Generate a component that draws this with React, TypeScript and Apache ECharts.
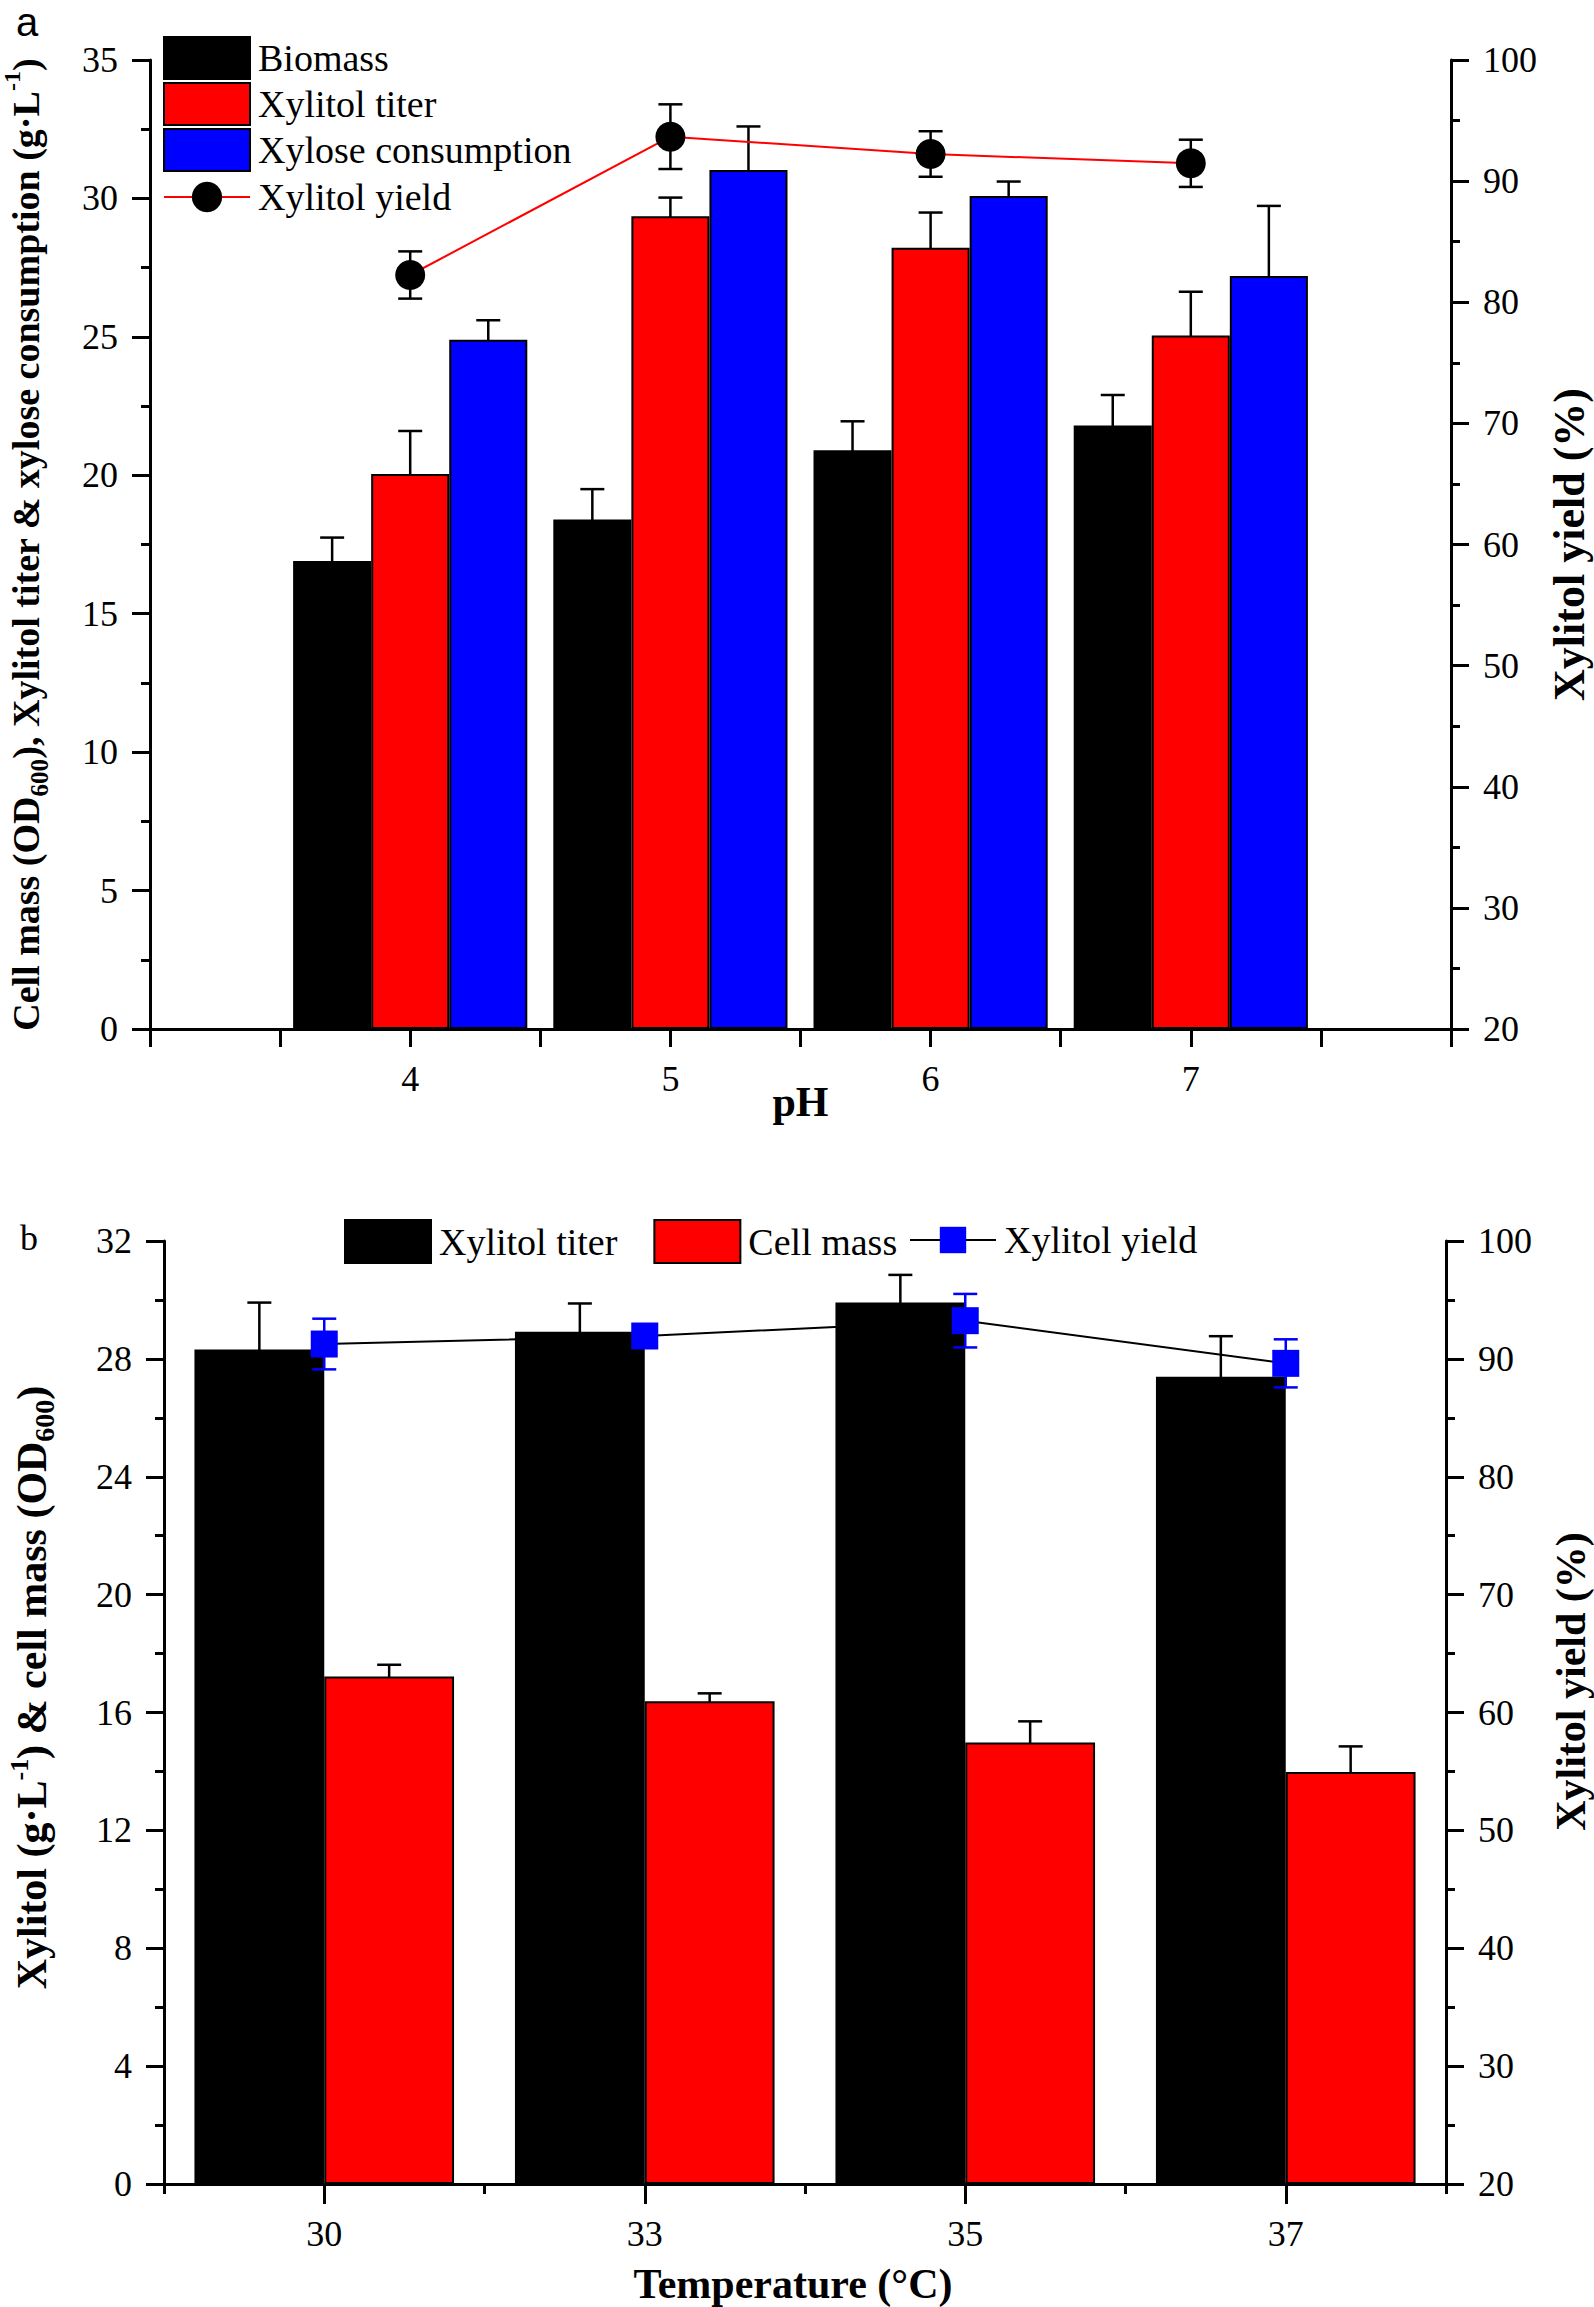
import React, { useEffect, useRef } from 'react';
import * as echarts from 'echarts';

// ---------- Panel a data (pH) ----------
const pHValues = [4, 5, 6, 7];
const biomass = [16.9, 18.4, 20.9, 21.8];
const biomassErr = [0.85, 1.1, 1.05, 1.1];
const titerA = [20.05, 29.36, 28.22, 25.05];
const titerAErr = [1.55, 0.67, 1.27, 1.58];
const xyloseCons = [24.9, 31.03, 30.09, 27.2];
const xyloseConsErr = [0.7, 1.57, 0.52, 2.53];
const yieldA = [82.25, 93.67, 92.24, 91.47];
const yieldAErr = [1.95, 2.67, 1.88, 1.95];

// ---------- Panel b data (temperature) ----------
const temperatures = ['30', '33', '35', '37'];
const tempIndex = [0, 1, 2, 3];
const titerB = [28.32, 28.92, 29.91, 27.39];
const titerBErr = [1.59, 0.96, 0.94, 1.38];
const cellMassB = [17.22, 16.38, 14.98, 13.98];
const cellMassBErr = [0.4, 0.27, 0.72, 0.87];
const yieldB = [91.26, 91.94, 93.24, 89.62];
const yieldBErr = [2.15, 0.5, 2.27, 2.04];

const SERIF = '"Liberation Serif", "Times New Roman", serif';
const BLACK = '#000000';
const RED = '#ff0000';
const BLUE = '#0000ff';

const axisLine = { show: true, onZero: false, lineStyle: { color: BLACK, width: 3 } };

function errorSeries(xs: number[], ys: number[], es: number[], offset: number, color: string, yAxisIndex: number) {
  return {
    type: 'custom',
    xAxisIndex: 0,
    yAxisIndex,
    silent: true,
    data: xs.map((x, i) => [x, ys[i], es[i]]),
    encode: { x: 0, y: 1 },
    renderItem: (_params: any, api: any) => {
      const x = api.value(0);
      const y = api.value(1);
      const e = api.value(2);
      const band = api.size([1, 0])[0];
      const hi = api.coord([x, y + e]);
      const lo = api.coord([x, y - e]);
      const cx = hi[0] + offset * band;
      const hw = 12;
      const style = { stroke: color, lineWidth: 2.5, fill: null };
      return {
        type: 'group',
        children: [
          { type: 'line', shape: { x1: cx, y1: hi[1], x2: cx, y2: lo[1] }, style },
          { type: 'line', shape: { x1: cx - hw, y1: hi[1], x2: cx + hw, y2: hi[1] }, style },
          { type: 'line', shape: { x1: cx - hw, y1: lo[1], x2: cx + hw, y2: lo[1] }, style },
        ],
      };
    },
  };
}

function yAxis(position: string, min: number, max: number, interval: number, name: string, nameGap: number, nameTextStyle: any) {
  return {
    type: 'value',
    position,
    min,
    max,
    interval,
    axisLine,
    axisTick: { show: true, inside: false, length: 18, lineStyle: { color: BLACK, width: 3 } },
    minorTick: { show: true, splitNumber: 2, length: 9, lineStyle: { color: BLACK, width: 3 } },
    splitLine: { show: false },
    minorSplitLine: { show: false },
    axisLabel: { fontSize: 36, color: BLACK, fontFamily: SERIF, margin: 32 },
    name,
    nameLocation: 'middle',
    nameRotate: 90,
    nameGap,
    nameMoveOverlap: false,
    nameTextStyle,
  };
}

const titleStyle = { fontSize: 42, fontWeight: 'bold', fontFamily: SERIF, color: BLACK };

function richTitle(size: number, pad: number[]) {
  return {
    padding: pad,
    rich: {
      t: { fontSize: size, fontWeight: 'bold', fontFamily: SERIF, color: BLACK, lineHeight: 52 },
      sub: { fontSize: Math.round(size * 0.66), fontWeight: 'bold', fontFamily: SERIF, color: BLACK, lineHeight: 28, verticalAlign: 'bottom' },
      sup: { fontSize: Math.round(size * 0.62), fontWeight: 'bold', fontFamily: SERIF, color: BLACK, lineHeight: 26, verticalAlign: 'top' },
    },
  };
}

const legendText = { fontSize: 38, color: BLACK, fontFamily: SERIF, lineHeight: 38, padding: [0, 0, 0, 3] };

function buildA(): any {
  const bar = (name: string, data: number[], color: string) => ({
    type: 'bar',
    name,
    xAxisIndex: 0,
    yAxisIndex: 0,
    barWidth: '30%',
    barGap: '0%',
    data: pHValues.map((x, i) => [x, data[i]]),
    itemStyle: { color, borderColor: BLACK, borderWidth: 2 },
  });
  return {
    animation: false,
    textStyle: { fontFamily: SERIF },
    grid: { left: 150, right: 143, top: 60, height: 969, outerBoundsMode: 'none', containLabel: false },
    legend: [
      {
        data: [
          { name: 'Biomass', icon: 'rect' },
          { name: 'Xylitol titer', icon: 'rect' },
          { name: 'Xylose consumption', icon: 'rect' },
        ],
        orient: 'vertical',
        left: 163,
        top: 36,
        itemWidth: 86,
        itemHeight: 42,
        itemGap: 2,
        padding: 0,
        selectedMode: false,
        textStyle: legendText,
      },
      {
        data: ['Xylitol yield'],
        orient: 'vertical',
        left: 163,
        top: 178,
        itemWidth: 86,
        itemHeight: 38,
        padding: 0,
        selectedMode: false,
        textStyle: legendText,
      },
    ],
    xAxis: {
      type: 'value',
      position: 'bottom',
      min: 3,
      max: 8,
      interval: 0.5,
      axisLine,
      axisTick: { show: true, length: 18, lineStyle: { color: BLACK, width: 3 } },
      splitLine: { show: false },
      axisLabel: {
        fontSize: 36,
        color: BLACK,
        fontFamily: SERIF,
        margin: 32,
        formatter: (v: number) => (pHValues.indexOf(v) >= 0 ? String(v) : ''),
      },
      name: 'pH',
      nameLocation: 'middle',
      nameGap: 52,
      nameMoveOverlap: false,
      nameTextStyle: titleStyle,
    },
    yAxis: [
      yAxis('left', 0, 35, 5,
        '{t|Cell mass (OD}{sub|600}{t|), Xylitol titer & xylose consumption (g·L}{sup|-1}{t|)}',
        98, richTitle(38, [0, 0, 0, 0])),
      yAxis('right', 20, 100, 10, 'Xylitol yield (%)', 96, { ...titleStyle, fontSize: 44, lineHeight: 44 }),
    ],
    graphic: [
      {
        type: 'text',
        x: 27,
        y: 22,
        style: { text: 'a', fontSize: 40, fontFamily: '"Liberation Sans", Arial, sans-serif', fill: BLACK, align: 'center', verticalAlign: 'middle' },
      },
    ],
    series: [
      bar('Biomass', biomass, BLACK),
      bar('Xylitol titer', titerA, RED),
      bar('Xylose consumption', xyloseCons, BLUE),
      errorSeries(pHValues, biomass, biomassErr, -0.3, BLACK, 0),
      errorSeries(pHValues, titerA, titerAErr, 0, BLACK, 0),
      errorSeries(pHValues, xyloseCons, xyloseConsErr, 0.3, BLACK, 0),
      errorSeries(pHValues, yieldA, yieldAErr, 0, BLACK, 1),
      {
        type: 'line',
        name: 'Xylitol yield',
        xAxisIndex: 0,
        yAxisIndex: 1,
        data: pHValues.map((x, i) => [x, yieldA[i]]),
        symbol: 'circle',
        symbolSize: 30,
        lineStyle: { color: RED, width: 2 },
        itemStyle: { color: BLACK },
        z: 5,
      },
    ],
  };
}

function buildB(): any {
  const bar = (name: string, data: number[], color: string) => ({
    type: 'bar',
    name,
    xAxisIndex: 0,
    yAxisIndex: 0,
    barWidth: '40.5%',
    barGap: '0%',
    data: tempIndex.map((x, i) => [x, data[i]]),
    itemStyle: { color, borderColor: BLACK, borderWidth: 2 },
  });
  return {
    animation: false,
    textStyle: { fontFamily: SERIF },
    grid: { left: 164, right: 148, top: 91, height: 943, outerBoundsMode: 'none', containLabel: false },
    legend: [
      {
        data: [
          { name: 'Xylitol titer', icon: 'rect' },
          { name: 'Cell mass', icon: 'rect' },
        ],
        orient: 'horizontal',
        left: 344,
        top: 69,
        itemWidth: 86,
        itemHeight: 43,
        itemGap: 36,
        padding: 0,
        selectedMode: false,
        textStyle: legendText,
      },
      {
        data: ['Xylitol yield'],
        orient: 'horizontal',
        left: 909,
        top: 71,
        itemWidth: 86,
        itemHeight: 33,
        padding: 0,
        selectedMode: false,
        textStyle: legendText,
      },
    ],
    xAxis: [
      {
        type: 'value',
        position: 'bottom',
        min: -0.5,
        max: 3.5,
        interval: 1,
        axisLine,
        axisTick: { show: true, length: 10, lineStyle: { color: BLACK, width: 3 } },
        axisLabel: { show: false },
        splitLine: { show: false },
        name: 'Temperature (°C)',
        nameLocation: 'middle',
        nameGap: 80,
        nameMoveOverlap: false,
        nameTextStyle: { ...titleStyle, lineHeight: 40, padding: [0, 24, 0, 0] },
      },
      {
        type: 'category',
        position: 'bottom',
        data: temperatures,
        boundaryGap: true,
        axisLine: { show: false },
        axisTick: { show: true, alignWithLabel: true, length: 20, lineStyle: { color: BLACK, width: 3 } },
        axisLabel: { fontSize: 36, color: BLACK, fontFamily: SERIF, margin: 32 },
        splitLine: { show: false },
      },
    ],
    yAxis: [
      yAxis('left', 0, 32, 4,
        '{t|Xylitol (g·L}{sup|-1}{t|) & cell mass (OD}{sub|600}{t|)}',
        106, richTitle(42, [0, 0, 0, 50])),
      yAxis('right', 20, 100, 10, 'Xylitol yield (%)', 104, { ...titleStyle, lineHeight: 42, padding: [0, 0, 0, 62] }),
    ],
    graphic: [
      {
        type: 'text',
        x: 29,
        y: 88,
        style: { text: 'b', fontSize: 36, fontFamily: SERIF, fill: BLACK, align: 'center', verticalAlign: 'middle' },
      },
    ],
    series: [
      bar('Xylitol titer', titerB, BLACK),
      bar('Cell mass', cellMassB, RED),
      errorSeries(tempIndex, titerB, titerBErr, -0.2025, BLACK, 0),
      errorSeries(tempIndex, cellMassB, cellMassBErr, 0.2025, BLACK, 0),
      {
        type: 'line',
        name: 'Xylitol yield',
        xAxisIndex: 0,
        yAxisIndex: 1,
        data: tempIndex.map((x, i) => [x, yieldB[i]]),
        symbol: 'rect',
        symbolSize: 27,
        lineStyle: { color: BLACK, width: 2 },
        itemStyle: { color: BLUE },
        z: 5,
      },
      { ...errorSeries(tempIndex, yieldB, yieldBErr, 0, BLUE, 1), z: 4 },
    ],
  };
}

export default function App() {
  const refA = useRef<HTMLDivElement>(null);
  const refB = useRef<HTMLDivElement>(null);
  useEffect(() => {
    document.body.style.margin = '0';
    const a = echarts.init(refA.current as HTMLDivElement, undefined, { renderer: 'svg' });
    a.setOption(buildA());
    const b = echarts.init(refB.current as HTMLDivElement, undefined, { renderer: 'svg' });
    b.setOption(buildB());
    return () => {
      a.dispose();
      b.dispose();
    };
  }, []);
  return (
    <div style={{ position: 'absolute', left: 0, top: 0, width: 1594, height: 2307, background: '#ffffff', overflow: 'hidden' }}>
      <div ref={refA} style={{ position: 'absolute', left: 0, top: 0, width: 1594, height: 1150 }} />
      <div ref={refB} style={{ position: 'absolute', left: 0, top: 1150, width: 1594, height: 1157 }} />
    </div>
  );
}
